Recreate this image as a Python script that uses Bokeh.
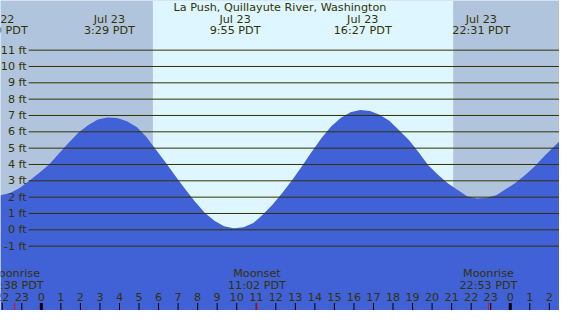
from bokeh.plotting import figure
from bokeh.models import BoxAnnotation
from bokeh.core.properties import value
from bokeh.embed import file_html
from bokeh.resources import INLINE

# ---- data ----
hours = [-2.09, -1.59, -1.09, -0.60, -0.10, 0.40, 0.90, 1.39, 1.89, 2.39, 2.89, 3.38,
         3.88, 4.38, 4.88, 5.37, 5.87, 6.37, 6.87, 7.36, 7.86, 8.36, 8.86, 9.35, 9.85,
         10.35, 10.85, 11.34, 11.84, 12.34, 12.84, 13.33, 13.83, 14.33, 14.83, 15.32,
         15.82, 16.32, 16.82, 17.31, 17.81, 18.31, 18.81, 19.30, 19.80, 20.30, 20.80,
         21.29, 21.79, 22.29, 22.79, 23.28, 23.78, 24.28, 24.78, 25.27, 25.77, 26.52]
heights = [2.12, 2.25, 2.57, 3.02, 3.50, 4.00, 4.67, 5.31, 5.94, 6.40, 6.75, 6.88,
           6.84, 6.65, 6.30, 5.70, 4.90, 4.10, 3.28, 2.50, 1.73, 1.04, 0.55, 0.22, 0.10,
           0.16, 0.41, 0.94, 1.55, 2.27, 3.05, 3.87, 4.77, 5.60, 6.33, 6.85,
           7.20, 7.33, 7.27, 7.04, 6.68, 6.10, 5.50, 4.77, 3.95, 3.37, 2.85,
           2.45, 2.06, 1.92, 1.96, 2.12, 2.50, 2.88, 3.37, 3.90, 4.55, 5.42]

title = "La Push, Quillayute River, Washington"
event_hours = [-2.18, 3.483, 9.917, 16.45, 22.517]
event_dates = ["Jul 22", "Jul 23", "Jul 23", "Jul 23", "Jul 23"]
event_times = ["21:49 PDT", "3:29 PDT", "9:55 PDT", "16:27 PDT", "22:31 PDT"]

moon_hours = [-1.367, 11.033, 22.883]
moon_names = ["Moonrise", "Moonset", "Moonrise"]
moon_times = ["22:38 PDT", "11:02 PDT", "22:53 PDT"]

sunrise = 5.71
sunset = 21.08

ft_levels = list(range(-1, 12))
ft_labels = [f"{v} ft" for v in ft_levels]

tick_hours = list(range(-2, 27))
tick_labels = [str(h % 24) for h in tick_hours]

# ---- styling ----
NIGHT = "#b0c4de"
DAY = "#ddf6ff"
WATER = "#4161d7"
INK = "#333300"
FONT = value("DejaVu Sans")
FS = "11.2px"

X0, X1 = -2.09, 26.52
Y0, Y1 = -4.94, 14.04

p = figure(width=559, height=310, x_range=(X0, X1), y_range=(Y0, Y1),
           output_backend="svg", toolbar_location=None, min_border=0)
p.axis.visible = False
p.grid.visible = False
p.outline_line_color = None
p.background_fill_color = NIGHT
p.border_fill_color = NIGHT

p.add_layout(BoxAnnotation(left=sunrise, right=sunset, fill_color=DAY,
                           fill_alpha=1, line_color=None, level="underlay"))

p.varea(x=hours, y1=[Y0] * len(hours), y2=heights, fill_color=WATER)

# horizontal level lines
grid_start = -0.65
p.segment(x0=[grid_start] * len(ft_levels), x1=[X1] * len(ft_levels),
          y0=ft_levels, y1=ft_levels, line_color=INK, line_width=1)
p.text(x=[-0.75] * len(ft_levels), y=ft_levels, text=ft_labels,
       text_align="right", text_baseline="middle", text_font=FONT,
       text_font_size=FS, text_color=INK)

# title and extreme labels
p.text(x=[(X0 + X1) / 2], y=[13.62], text=[title], text_align="center",
       text_baseline="middle", text_font=FONT, text_font_size=FS, text_color=INK)
p.text(x=event_hours, y=[12.88] * len(event_hours), text=event_dates,
       text_align="center", text_baseline="middle", text_font=FONT,
       text_font_size=FS, text_color=INK)
p.text(x=event_hours, y=[12.18] * len(event_hours), text=event_times,
       text_align="center", text_baseline="middle", text_font=FONT,
       text_font_size=FS, text_color=INK)

# hour ticks
tick_top = -4.48
normal = [h for h in tick_hours if h % 24 != 0]
midn = [h for h in tick_hours if h % 24 == 0]
p.segment(x0=normal, x1=normal, y0=[Y0] * len(normal), y1=[tick_top] * len(normal),
          line_color="black", line_width=1)
p.segment(x0=midn, x1=midn, y0=[Y0] * len(midn), y1=[tick_top] * len(midn),
          line_color="black", line_width=3)
p.segment(x0=moon_hours, x1=moon_hours, y0=[Y0] * len(moon_hours),
          y1=[tick_top] * len(moon_hours), line_color="red", line_width=1)
p.text(x=tick_hours, y=[-4.10] * len(tick_hours), text=tick_labels,
       text_align="center", text_baseline="middle", text_font=FONT,
       text_font_size=FS, text_color=INK)

# moon labels
p.text(x=moon_hours, y=[-2.70] * len(moon_hours), text=moon_names,
       text_align="center", text_baseline="middle", text_font=FONT,
       text_font_size=FS, text_color=INK)
p.text(x=moon_hours, y=[-3.41] * len(moon_hours), text=moon_times,
       text_align="center", text_baseline="middle", text_font=FONT,
       text_font_size=FS, text_color=INK)

open("out.html", "w").write(file_html(p, INLINE))
